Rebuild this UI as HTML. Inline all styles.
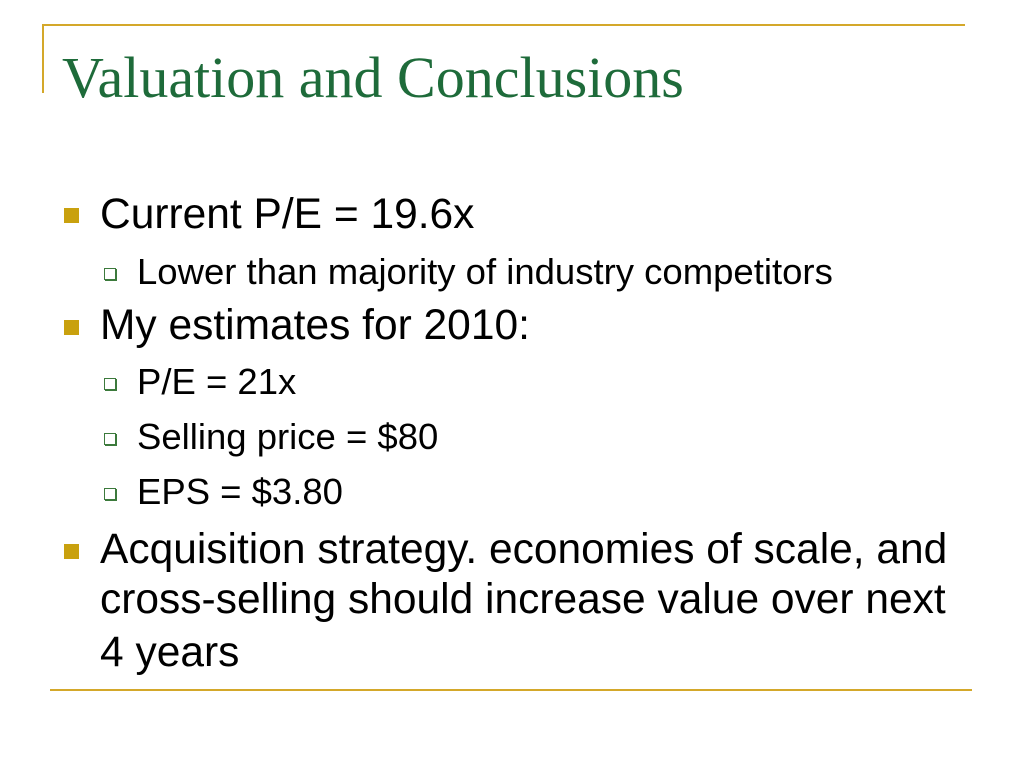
<!DOCTYPE html>
<html><head><meta charset="utf-8"><style>
body{margin:0;width:1024px;height:768px;background:#fff;position:relative;overflow:hidden}
.a{position:absolute;white-space:nowrap;line-height:1}
.m{font:42.5px "Liberation Sans",sans-serif;color:#000;left:100px}
.s{font:36.5px "Liberation Sans",sans-serif;color:#000;left:137px}
.b{position:absolute;width:15px;height:15px;background:#c9a10e}
.c{position:absolute;width:10px;height:10px;border:1px solid #3c7a3c;box-shadow:1px 1px 0 #3c7a3c;background:#fff}
</style></head><body>
<div style="position:absolute;left:42px;top:24px;width:923px;height:2px;background:#d4a82a"></div>
<div style="position:absolute;left:42px;top:24px;width:2px;height:69px;background:#d4a82a"></div>
<div style="position:absolute;left:50px;top:689px;width:922px;height:2px;background:#d4a82a"></div>
<div class="a" style="left:62px;top:44px;font:58px 'Liberation Serif',serif;color:#1e6b3a">Valuation and Conclusions</div>

<div class="b" style="left:64px;top:208px"></div>
<div class="a m" style="top:191px">Current P/E = 19.6x</div>
<div class="c" style="left:104px;top:268px"></div>
<div class="a s" style="top:251px">Lower than majority of industry competitors</div>

<div class="b" style="left:64px;top:320px"></div>
<div class="a m" style="top:302px">My estimates for 2010:</div>
<div class="c" style="left:104px;top:378px"></div>
<div class="a s" style="top:361px">P/E = 21x</div>
<div class="c" style="left:104px;top:433px"></div>
<div class="a s" style="top:416px">Selling price = $80</div>
<div class="c" style="left:104px;top:488px"></div>
<div class="a s" style="top:471px">EPS = $3.80</div>

<div class="b" style="left:64px;top:544px"></div>
<div class="a m" style="top:526px">Acquisition strategy. economies of scale, and</div>
<div class="a m" style="top:576px">cross-selling should increase value over next</div>
<div class="a m" style="top:629px">4 years</div>
</body></html>
